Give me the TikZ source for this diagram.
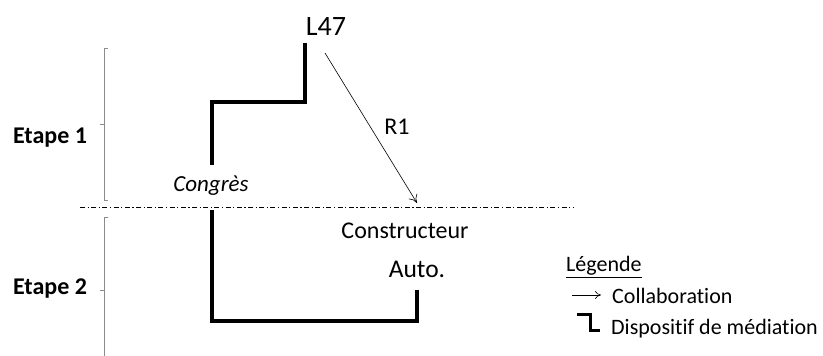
\documentclass[tikz,border=0pt]{standalone}
\usepackage{fontspec}
\setmainfont{Carlito}[Ligatures=NoCommon]
\usetikzlibrary{arrows.meta,calc}
\begin{document}
\begin{tikzpicture}[x=1pt,y=-1pt,
  mediation/.style={line width=3.5pt,line cap=butt,line join=miter},
  bracketline/.style={draw=black!45,line width=0.8pt},
  collab/.style={-{To[length=8pt,width=10pt]},line width=0.6pt},
  lbl/.style={inner sep=0pt,font=\fontsize{24}{26}\selectfont},
  etape/.style={inner sep=0pt,font=\fontsize{24}{26}\selectfont\bfseries},
  small/.style={inner sep=0pt,font=\fontsize{22}{24}\selectfont}]
\useasboundingbox (0,0) rectangle (823,356);
% nodes
\node[lbl,font=\fontsize{28}{30}\selectfont] (l47) at (326,27) {L47};
\node[lbl] (cons) at (405,231) {Constructeur};
\node[lbl,font=\fontsize{25.5}{28}\selectfont] (auto) at (417,269) {Auto.};
\node[lbl,font=\fontsize{23}{26}\selectfont\itshape] (congres) at (211,186) {Congrès};
\node[lbl] (r1) at (397,127) {R1};
\node[etape] (e1) at (50,138) {Etape 1};
\node[etape] (e2) at (50,289) {Etape 2};
% coordinates
\coordinate (a1) at (325,53);
\coordinate (a2) at (417,203);
\coordinate (m1a) at (305,43);
\coordinate (m1b) at (305,102);
\coordinate (m1c) at (212,102);
\coordinate (m1d) at (212,165);
\coordinate (m2a) at (212,210);
\coordinate (m2b) at (212,321);
\coordinate (m2c) at (417,321);
\coordinate (m2d) at (417,290);
\coordinate (sepL) at (80,207.5);
\coordinate (sepR) at (573,207.5);
% mediation lines
\draw[mediation] (m1a) -- (m1b) -- (m1c) -- (m1d);
\draw[mediation] (m2a) -- (m2b) -- (m2c) -- (m2d);
% collaboration
\draw[collab] (a1) -- (a2);
% separator
\draw[line width=0.6pt,dash pattern=on 5pt off 2.5pt on 1.2pt off 2.5pt] (sepL) -- (sepR);
% brackets
\coordinate (b1t) at (104,48);
\coordinate (b1b) at (104,200);
\coordinate (b1m) at (104,124);
\coordinate (b2t) at (104,217);
\coordinate (b2b) at (104,356);
\coordinate (b2m) at (104,290);
\draw[bracketline] ($(b1t)+(4,0)$) -- (b1t) -- (b1b) -- ($(b1b)+(4,0)$);
\draw[bracketline] (b1m) -- ($(b1m)+(-4,0)$);
\draw[bracketline] ($(b2t)+(4,0)$) -- (b2t) -- (b2b);
\draw[bracketline] (b2m) -- ($(b2m)+(-4,0)$);
% legend
\node[small,anchor=west] (leg) at (566,267) {\underline{Légende}};
\coordinate (la1) at (572,295);
\coordinate (la2) at (601,295);
\draw[-{To[length=6pt,width=8pt]},line width=0.6pt] (la1) -- (la2);
\node[small,anchor=west] (lcol) at (612,296) {Collaboration};
\coordinate (ls1) at (577,314);
\coordinate (ls2) at (590,314);
\coordinate (ls3) at (590,330.5);
\coordinate (ls4) at (600,330.5);
\draw[line width=3pt,line cap=butt,line join=miter] (ls1) -- (ls2) -- (ls3) -- (ls4);
\node[small,anchor=west] (lmed) at (611,329) {Dispositif de médiation};
\end{tikzpicture}
\end{document}
